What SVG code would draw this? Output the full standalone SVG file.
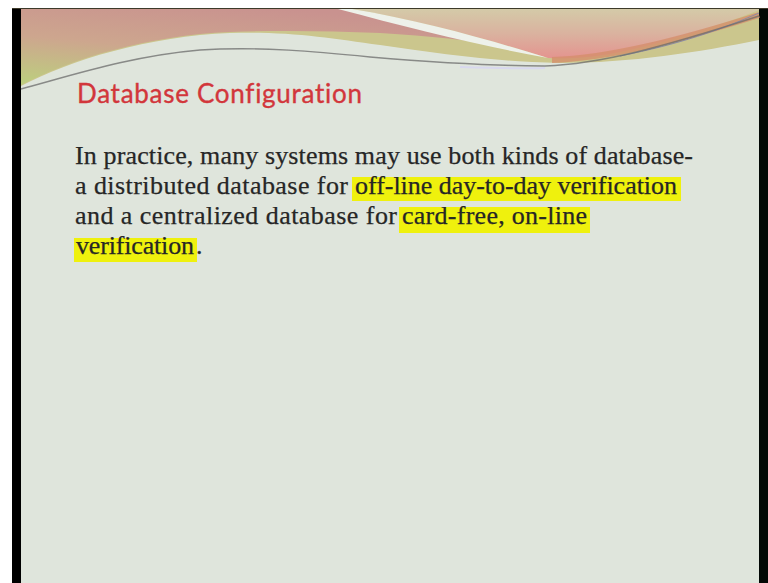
<svg xmlns="http://www.w3.org/2000/svg" width="768" height="583" viewBox="0 0 768 583">
  <defs>
    <linearGradient id="gLeft" x1="0.55" y1="0" x2="0" y2="1">
      <stop offset="0" stop-color="#c9928f"/>
      <stop offset="0.5" stop-color="#cda68e"/>
      <stop offset="1" stop-color="#bcd07e"/>
    </linearGradient>
    <linearGradient id="gRight" x1="0" y1="0" x2="0" y2="1">
      <stop offset="0" stop-color="#d4caa8"/>
      <stop offset="0.5" stop-color="#dab29f"/>
      <stop offset="1" stop-color="#e4948f"/>
    </linearGradient>
    <filter id="soft" x="-5%" y="-20%" width="110%" height="140%">
      <feGaussianBlur stdDeviation="0.7"/>
    </filter>
    <style>
      .body { font-family: "Liberation Serif", "DejaVu Serif", serif; font-size: 26px; fill: #262626; stroke: #262626; stroke-width: 0.25; }
      .title { font-family: Lato, "Open Sans", "Liberation Sans", sans-serif; font-size: 26px; fill: #d2363b; stroke: #d2363b; stroke-width: 0.35; font-variant-ligatures: none; }
      .mark { fill: #eff10d; }
    </style>
  </defs>

  <!-- frame around the slide -->
  <rect x="0" y="0" width="768" height="583" fill="#ffffff"/>
  <rect x="21" y="8" width="738" height="575" fill="#dfe5dc"/>
  <rect x="12" y="8" width="9" height="575" fill="#000000"/>
  <rect x="759" y="8" width="9" height="575" fill="#030805"/>
  <line x1="12" y1="8.5" x2="768" y2="8.5" stroke="#3d3a2a" stroke-width="1"/>

  <!-- header swooshes -->
  <g id="header" filter="url(#soft)">
    <!-- khaki base band -->
    <path d="M21,86 C70,60 150,36 230,33 C290,31 330,38 380,45 C440,54 500,62 560,63 C630,63 700,52 759,40 V9 H21 Z" fill="#cbc68d"/>
    <!-- left pink-to-green swoosh -->
    <path d="M21,9 H340 C400,24 460,38 505,47 C470,40 430,36 380,33 C330,31 280,30 230,32 C150,35 70,59 21,85 Z" fill="url(#gLeft)"/>
    <!-- right beige-to-pink swoosh -->
    <path d="M352,9 H759 V10 C730,22 670,42 610,54 C585,58 565,59 548,58 C490,40 420,20 352,9 Z" fill="url(#gRight)"/>
    <!-- orange band along the right swoosh -->
    <path d="M552,60 C610,58 680,40 759,15" fill="none" stroke="#d48f6c" stroke-width="6" stroke-opacity="0.8"/>
    <!-- white ribbon -->
    <path d="M352,9 C420,20 490,40 548,58 C480,46 410,28 338,9 Z" fill="#eef1ea"/>
    <!-- thin lines -->
    <path d="M620,56 C680,44 720,30 759,13" fill="none" stroke="#8c8aa4" stroke-width="1"/>
    <path d="M460,67 C490,68 520,69 545,68" fill="none" stroke="#d8d8ee" stroke-width="2"/>
    <path d="M21,89 C70,76 130,56 200,50 C260,46 320,52 370,57 C430,62 490,66 545,66 C600,64 660,48 759,16" fill="none" stroke="#6b6b6b" stroke-width="1.4" stroke-opacity="0.75"/>
  </g>

  <!-- title -->
  <text id="title" class="title" x="77" y="103" textLength="285">Database Configuration</text>

  <!-- highlighted phrases -->
  <g id="highlights">
    <rect class="mark" x="352" y="177" width="329" height="24"/>
    <rect class="mark" x="399" y="207" width="191" height="26"/>
    <rect class="mark" x="74" y="238" width="123" height="24"/>
  </g>

  <!-- body paragraph -->
  <g id="body">
    <text class="body" x="75" y="164" textLength="618">In practice, many systems may use both kinds of database-</text>
    <text class="body" x="75" y="194" textLength="273">a distributed database for</text>
    <text class="body" x="355" y="194" textLength="322">off-line day-to-day verification</text>
    <text class="body" x="75" y="224" textLength="322">and a centralized database for</text>
    <text class="body" x="402" y="224" textLength="185">card-free, on-line</text>
    <text class="body" x="76" y="254" textLength="118">verification</text>
    <text class="body" x="196" y="254">.</text>
  </g>
</svg>
